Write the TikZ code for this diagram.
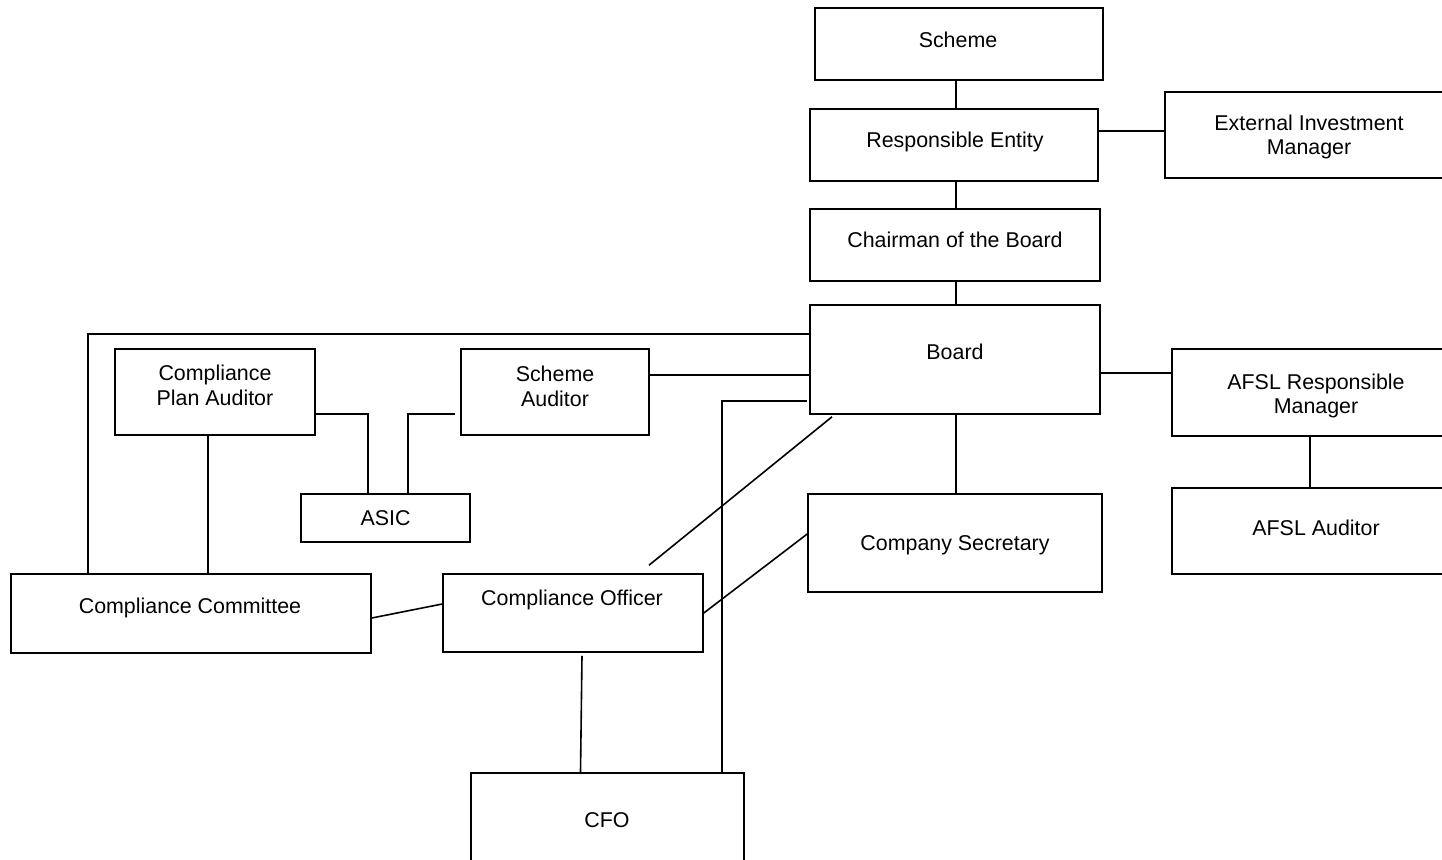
\documentclass[tikz,border=0pt]{standalone}
\usepackage{fontspec}
\setmainfont{Liberation Sans}
\usetikzlibrary{calc}
\tikzset{
  box/.style={draw=black, line width=1.6pt, rectangle, inner sep=0pt},
  lbl/.style={inner sep=0pt, align=center, text depth=0pt, font=\fontsize{21.4}{24.5}\selectfont},
  conn/.style={draw=black, line width=1.6pt}
}
\begin{document}
\begin{tikzpicture}[x=1pt,y=-1pt]
\useasboundingbox (0,0) rectangle (1442,859);
\clip (0,0) rectangle (1442,859);
% boxes
\node[box, minimum width=288, minimum height=72] (scheme) at (959,44) {};
\node[box, minimum width=288, minimum height=72] (re) at (954,145) {};
\node[box, minimum width=295, minimum height=86] (eim) at (1312.5,135) {};
\node[box, minimum width=290, minimum height=72] (chair) at (955,245) {};
\node[box, minimum width=290, minimum height=109] (board) at (955,359.5) {};
\node[box, minimum width=294, minimum height=98] (cs) at (955,543) {};
\node[box, minimum width=288, minimum height=87] (afslrm) at (1316,392.5) {};
\node[box, minimum width=288, minimum height=86] (afsla) at (1316,531) {};
\node[box, minimum width=188, minimum height=86] (sa) at (555,392) {};
\node[box, minimum width=200, minimum height=86] (cpa) at (215,392) {};
\node[box, minimum width=169, minimum height=48] (asic) at (385.5,518) {};
\node[box, minimum width=360, minimum height=79] (cc) at (191,613.5) {};
\node[box, minimum width=260, minimum height=78] (co) at (573,613) {};
\node[box, minimum width=273, minimum height=97] (cfo) at (607.5,821.5) {};
% labels
\node[lbl] (scheme-t) at (958,40) {Scheme};
\node[lbl] (re-t) at (955,140) {Responsible Entity};
\node[lbl] (eim-t) at (1309,134.5) {External Investment\\Manager};
\node[lbl] (chair-t) at (955,240) {Chairman of the Board};
\node[lbl] (board-t) at (955,352) {Board};
\node[lbl] (cs-t) at (955,543) {Company Secretary};
\node[lbl] (afslrm-t) at (1316,393.5) {AFSL Responsible\\Manager};
\node[lbl] (afsla-t) at (1316,528) {AFSL Auditor};
\node[lbl] (sa-t) at (555,386) {Scheme\\Auditor};
\node[lbl] (cpa-t) at (215,385) {Compliance\\Plan Auditor};
\node[lbl] (asic-t) at (385.5,518) {ASIC};
\node[lbl] (cc-t) at (190,606) {Compliance Committee};
\node[lbl] (co-t) at (572,598) {Compliance Officer};
\node[lbl] (cfo-t) at (607,820) {CFO};
% connectors
\draw[conn] ($(re.north)+(2,0)$) -- ($(scheme.south)+(-3,0)$);
\draw[conn] ($(re.east)+(0,-14)$) -- ($(eim.west)+(0,-4)$);
\draw[conn] ($(re.south)+(2,0)$) -- ($(chair.north)+(1,0)$);
\draw[conn] ($(chair.south)+(1,0)$) -- ($(board.north)+(1,0)$);
\draw[conn] ($(board.south)+(1,0)$) -- ($(cs.north)+(1,0)$);
\draw[conn] ($(board.east)+(0,13.5)$) -- ($(afslrm.west)+(0,-19.5)$);
\draw[conn] ($(afslrm.south)+(-6,0)$) -- ($(afsla.north)+(-6,0)$);
\draw[conn] ($(sa.east)+(0,-17)$) -- ($(board.west)+(0,15.5)$);
\draw[conn] ($(cpa.east)+(0,22)$) -| ($(asic.north)+(-17.5,0)$);
\draw[conn] ($(sa.west)+(-5,22)$) -| ($(asic.north)+(22.5,0)$);
\draw[conn] ($(board.west)+(0,-25.5)$) -| ($(cc.north)+(-103,0)$);
\draw[conn] ($(cpa.south)+(-7,-2)$) -- ($(cc.north)+(17,0)$);
\draw[conn] ($(cc.east)+(0,4.5)$) -- ($(co.west)+(0,-9)$);
\draw[conn] ($(co.south)+(9,3)$) -- ($(cfo.north)+(-27,0)$);
\draw[conn] ($(cfo.north)+(114.5,0)$) |- ($(board.west)+(-2,41.5)$);
\draw[conn] ($(board.south)+(-123,2)$) -- ($(co.north)+(76,-8)$);
\draw[conn] ($(cs.west)+(0,-9)$) -- (co.east);
\end{tikzpicture}
\end{document}
